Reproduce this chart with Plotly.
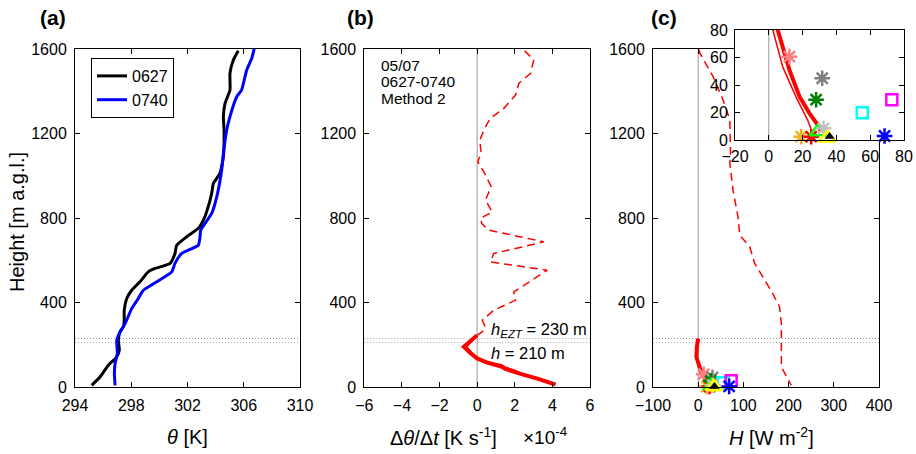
import plotly.graph_objects as go

W, H = 916, 454
FONT = "Liberation Sans, Arial, sans-serif"

# ---------------- data ----------------
# (a) potential temperature profiles
h_0627 = [8, 47, 103, 142, 174, 221, 261, 284, 316, 363, 419, 458, 498, 545, 561, 585, 632, 671,
          711, 751, 790, 829, 916, 964, 1011, 1090, 1217, 1280, 1343, 1406, 1485, 1548, 1592]
theta_0627 = [295.19, 295.78, 296.37, 296.96, 297.15, 297.08, 297.2, 297.44, 297.5, 297.5, 297.68,
              298.03, 298.62, 299.21, 299.69, 300.76, 301.11, 301.23, 301.94, 302.77, 303.13, 303.36,
              303.72, 303.84, 304.31, 304.55, 304.6, 304.55, 304.67, 305.02, 305.02, 305.26, 305.61]
h_0740 = [8, 63, 111, 158, 221, 261, 300, 371, 419, 458, 498, 545, 585, 632, 671, 711, 743, 822,
          900, 1027, 1106, 1217, 1280, 1374, 1406, 1501, 1556, 1600]
theta_0740 = [296.85, 296.8, 296.85, 297.01, 296.97, 297.2, 297.56, 298.03, 298.5, 298.86, 299.81,
              300.88, 301.11, 301.59, 302.77, 302.89, 302.94, 303.72, 304.08, 304.43, 304.55, 304.79,
              305.02, 305.5, 305.85, 306.21, 306.57, 306.74]

# (b) heating rate (x 1e-4 K s^-1)
h_b_dash = [1592, 1548, 1485, 1438, 1382, 1319, 1272, 1232, 1169, 1106, 1066, 1019, 948, 885, 829,
            798, 774, 743, 687, 632, 592, 553, 450, 411, 363, 316, 284, 261, 245]
rate_b_dash = [2.52, 3.01, 2.84, 2.22, 2.04, 1.42, 0.71, 0.44, 0.14, 0.21, 0.03, 0.35, 0.75, 0.44,
               0.8, 0.18, 0.25, 0.6, 3.55, 0.88, 0.71, 3.73, 1.95, 2.04, 0.88, 0.27, 0.44, 0.27, 0.0]
h_b_thick = [245, 190, 160, 135, 116, 100, 95, 85, 71, 60, 40, 11]
rate_b_thick = [0.0, -0.71, -0.35, 0.0, 0.53, 1.2, 1.33, 1.5, 2.1, 2.4, 3.2, 4.17]
h_b_thin = [240, 190, 160, 135, 116, 105, 95, 80, 65, 40, 11]
rate_b_thin = [-0.05, -0.55, -0.25, 0.1, 0.65, 1.3, 1.45, 2.0, 2.3, 3.1, 4.1]

# (c) sensible heat flux
h_c_dash = [1597, 1580, 1469, 1359, 1264, 1106, 1059, 932, 806, 719, 663, 585, 521, 442, 379, 300,
            190, 95, 8]
flux_c_dash = [2, 3.7, 33, 55, 70, 71.5, 70, 77, 88, 92, 114, 125, 143, 165, 180, 184, 184, 184, 206]
h_c_thick = [229, 190, 142, 110, 80, 51, 31.5, 19.4, 10.9, 6]
flux_c_thick = [0, -3, -4, 0.5, 5.3, 12.2, 18.2, 24.1, 29, 31]
h_c_thin = [229, 190, 142, 110, 80, 53, 31, 14.5, 8]
flux_c_thin = [-0.5, -4, -5, -1.5, 2.4, 8.3, 16.2, 23, 25]

# point observations (H [W m-2], height [m])
obs_flux = [19.2, 25.1, 12.2, 31.6, 28.0, 55.3, 72.8, 68.5, 29.0, 32.4, 34.5, 36.0]
obs_height = [2.4, 2.4, 60.6, 44.9, 29.3, 19.9, 29.3, 2.9, 6.0, 8.5, 1.5, 2.5]
obs_symbol = ["asterisk-open", "asterisk-open", "asterisk-open", "asterisk-open", "asterisk-open",
              "square-open", "square-open", "asterisk-open", "triangle-up-open", "asterisk-open",
              "triangle-up-open", "triangle-up"]
obs_color = ["#EDB120", "#FF0000", "#FF8080", "#808080", "#008000", "#00FFFF", "#FF00FF",
             "#0000FF", "#00FF00", "#C0C0C0", "#FFFF00", "#000000"]
obs_size = [13, 13, 13, 13, 13, 11, 11, 13, 14, 13, 14, 9]

h_ezt = 230
h_bl = 210

# axis settings
a_xticks = [294, 298, 302, 306, 310]
b_xticks = [-6, -4, -2, 0, 2, 4, 6]
c_xticks = [-100, 0, 100, 200, 300, 400]
y_ticks = [0, 400, 800, 1200, 1600]
inset_x = [-20, 80]
inset_y = [0, 80]
inset_xticks = [-20, 0, 20, 40, 60, 80]
inset_yticks = [0, 20, 40, 60, 80]
info_lines = ["05/07", "0627-0740", "Method 2"]


def px(x):
    return x / W


def py(y):
    return 1 - y / H


fig = go.Figure()

# (a)
fig.add_trace(go.Scatter(x=theta_0627, y=h_0627, mode="lines", name="0627",
                         line=dict(color="black", width=3, shape="spline", smoothing=0.5),
                         xaxis="x", yaxis="y"))
fig.add_trace(go.Scatter(x=theta_0740, y=h_0740, mode="lines", name="0740",
                         line=dict(color="#0000FF", width=3, shape="spline", smoothing=0.5),
                         xaxis="x", yaxis="y"))

# (b)
fig.add_trace(go.Scatter(x=rate_b_dash, y=h_b_dash, mode="lines", showlegend=False,
                         line=dict(color="#FF0000", width=1.5, dash="8px,5px"),
                         xaxis="x2", yaxis="y2"))
fig.add_trace(go.Scatter(x=rate_b_thick, y=h_b_thick, mode="lines", showlegend=False,
                         line=dict(color="#FF0000", width=4), xaxis="x2", yaxis="y2"))
fig.add_trace(go.Scatter(x=rate_b_thin, y=h_b_thin, mode="lines", showlegend=False,
                         line=dict(color="#FF0000", width=1.5), xaxis="x2", yaxis="y2"))

# (c) main
fig.add_trace(go.Scatter(x=flux_c_dash, y=h_c_dash, mode="lines", showlegend=False,
                         line=dict(color="#FF0000", width=1.5, dash="8px,5px"),
                         xaxis="x3", yaxis="y3"))
fig.add_trace(go.Scatter(x=flux_c_thick, y=h_c_thick, mode="lines", showlegend=False,
                         line=dict(color="#FF0000", width=4), xaxis="x3", yaxis="y3"))
fig.add_trace(go.Scatter(x=flux_c_thin, y=h_c_thin, mode="lines", showlegend=False,
                         line=dict(color="#FF0000", width=1.5), xaxis="x3", yaxis="y3"))


def add_obs(xa, ya):
    for f, hh, s, c, sz in zip(obs_flux, obs_height, obs_symbol, obs_color, obs_size):
        filled = not s.endswith("open")
        fig.add_trace(go.Scatter(
            x=[f], y=[hh], mode="markers", showlegend=False, cliponaxis=False,
            marker=dict(symbol=s, size=sz, color=c,
                        line=dict(color=c, width=2.5 if not filled else 0)),
            xaxis=xa, yaxis=ya))


add_obs("x3", "y3")

# (c) inset: white background first so it hides panel (c) frame behind it
fig.add_trace(go.Scatter(x=[inset_x[0], inset_x[1], inset_x[1], inset_x[0], inset_x[0]],
                         y=[inset_y[0], inset_y[0], inset_y[1], inset_y[1], inset_y[0]],
                         mode="none", fill="toself", fillcolor="white", showlegend=False,
                         hoverinfo="skip", xaxis="x4", yaxis="y4"))
fig.add_trace(go.Scatter(x=[0, 0], y=inset_y, mode="lines", showlegend=False,
                         line=dict(color="#999999", width=1), xaxis="x4", yaxis="y4"))
fig.add_trace(go.Scatter(x=flux_c_thick, y=h_c_thick, mode="lines", showlegend=False,
                         line=dict(color="#FF0000", width=4), xaxis="x4", yaxis="y4"))
fig.add_trace(go.Scatter(x=flux_c_thin, y=h_c_thin, mode="lines", showlegend=False,
                         line=dict(color="#FF0000", width=1.5), xaxis="x4", yaxis="y4"))
add_obs("x4", "y4")

# ---------------- axes ----------------
common = dict(showgrid=False, zeroline=False, showline=True, linecolor="black", linewidth=1,
              mirror="ticks", ticks="inside", ticklen=5, tickcolor="black", tickwidth=1,
              automargin=False,
              tickfont=dict(family=FONT, size=16, color="black"))

dom_y = [py(387), py(49)]
fig.update_layout(
    xaxis=dict(domain=[px(75), px(300)], range=[294, 310], tickvals=a_xticks, anchor="y",
               ticklabelstandoff=4, **common),
    yaxis=dict(domain=dom_y, range=[0, 1600], tickvals=y_ticks, anchor="x",
               ticklabelstandoff=4, **common),
    xaxis2=dict(domain=[px(364.3), px(590)], range=[-6, 6], tickvals=b_xticks, anchor="y2",
                ticklabelstandoff=4, **common),
    yaxis2=dict(domain=dom_y, range=[0, 1600], tickvals=y_ticks, anchor="x2",
                ticklabelstandoff=4, **common),
    xaxis3=dict(domain=[px(653), px(879)], range=[-100, 400], tickvals=c_xticks, anchor="y3",
                ticklabelstandoff=4, **common),
    yaxis3=dict(domain=dom_y, range=[0, 1600], tickvals=y_ticks, anchor="x3",
                ticklabelstandoff=4, **common),
    xaxis4=dict(domain=[px(735), px(904)], range=inset_x, tickvals=inset_xticks, anchor="y4",
                ticklabelstandoff=2, **common),
    yaxis4=dict(domain=[py(140), py(30)], range=inset_y, tickvals=inset_yticks, anchor="x4",
                ticklabelstandoff=3, **common),
)

# reference lines
shapes = []
for ya, xa in [("y", "x"), ("y2", "x2"), ("y3", "x3")]:
    for hv in (h_bl, h_ezt):
        shapes.append(dict(type="line", xref=f"{xa} domain", yref=ya, x0=0, x1=1, y0=hv, y1=hv,
                           line=dict(color="#A0A0A0", width=1, dash="1px,2px"), layer="below"))
for xa, ya in [("x2", "y2"), ("x3", "y3")]:
    shapes.append(dict(type="line", xref=xa, yref=f"{ya} domain", x0=0, x1=0, y0=0, y1=1,
                       line=dict(color="#999999", width=1), layer="below"))

ann = []


def add_text(text, x, y, size=16, xanchor="center", yanchor="middle", bold=False, angle=0,
             align="center"):
    if bold:
        text = f"<b>{text}</b>"
    ann.append(dict(text=text, x=px(x), y=py(y), xref="paper", yref="paper", showarrow=False,
                    xanchor=xanchor, yanchor=yanchor, textangle=angle, align=align,
                    font=dict(family=FONT, size=size, color="black")))


add_text("(a)", 53, 18, size=21, bold=True)
add_text("(b)", 360, 18, size=21, bold=True)
add_text("(c)", 664, 18, size=21, bold=True)
add_text("Height [m a.g.l.]", 17, 222, size=20, angle=-90)
add_text("<i>θ</i> [K]", 187, 437, size=20)
add_text("Δ<i>θ</i>/Δ<i>t</i> [K s<sup>-1</sup>]", 443, 436, size=20)
add_text("×10<sup>-4</sup>", 545, 436, size=19)
add_text("<i>H</i> [W m<sup>-2</sup>]", 771, 436, size=20)
for i, line in enumerate(info_lines):
    add_text(line, 379, 65 + 16.5 * i, size=15.5, xanchor="left", align="left")
add_text("<i>h</i><sub><i>EZT</i></sub> = 230 m", 489, 330, size=16.5, xanchor="left")
add_text("<i>h</i> = 210 m", 489, 353, size=16.5, xanchor="left")

fig.update_layout(
    template="none",
    width=W, height=H, autosize=False,
    margin=dict(l=0, r=0, t=0, b=0, autoexpand=False),
    paper_bgcolor="white", plot_bgcolor="white",
    font=dict(family=FONT, size=16, color="black"),
    shapes=shapes, annotations=ann,
    legend=dict(x=px(91), y=py(58), xanchor="left", yanchor="top", bgcolor="white",
                bordercolor="black", borderwidth=1, font=dict(family=FONT, size=16),
                tracegroupgap=0),
)

fig.write_html("out.html", config={"displayModeBar": False},
               post_script="document.body.style.margin='0';document.body.style.overflow='hidden';")
